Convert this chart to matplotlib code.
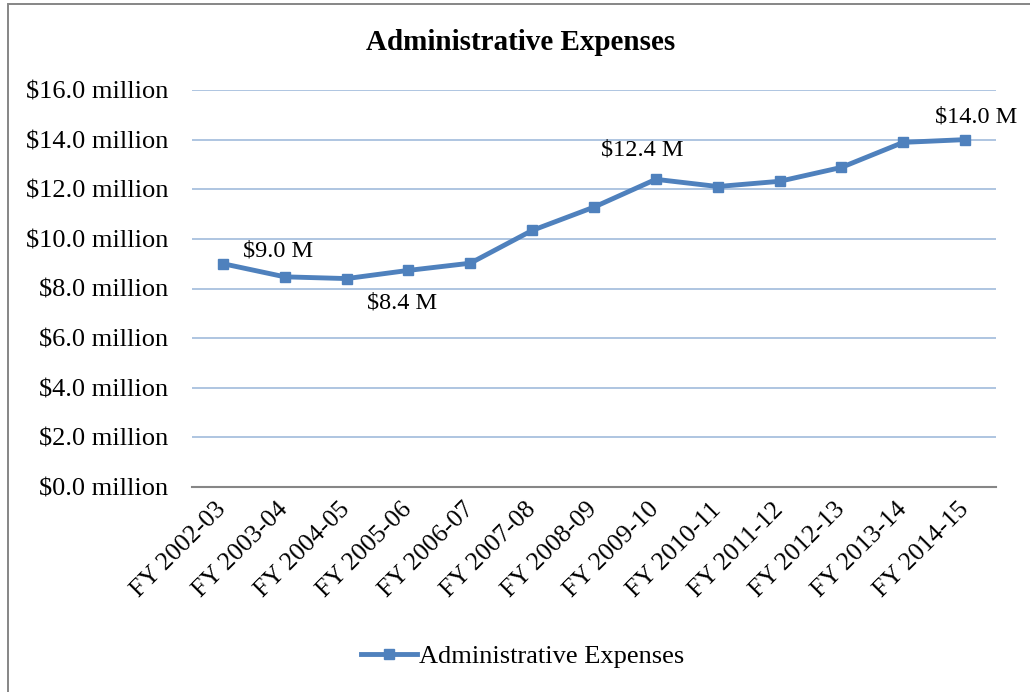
import matplotlib
matplotlib.use("Agg")
import matplotlib.pyplot as plt
from matplotlib.patches import Rectangle

plt.rcParams['font.family'] = ['Liberation Serif', 'DejaVu Serif']

fiscal_years = ["FY 2002-03", "FY 2003-04", "FY 2004-05", "FY 2005-06", "FY 2006-07",
                "FY 2007-08", "FY 2008-09", "FY 2009-10", "FY 2010-11", "FY 2011-12",
                "FY 2012-13", "FY 2013-14", "FY 2014-15"]
expenses_millions = [9.0, 8.47, 8.4, 8.73, 9.02, 10.34, 11.28, 12.4, 12.11, 12.32,
                     12.88, 13.89, 14.0]
y_ticks = [0, 2, 4, 6, 8, 10, 12, 14, 16]
# indices of points carrying a value label, with label offsets in pixels
labelled_points = [0, 2, 7, 12]
label_offsets = {0: (20, 13, 'left'), 2: (55, -24, 'center'),
                 7: (-14, 29, 'center'), 12: (11, 23, 'center')}

W, H = 1030, 692
fig = plt.figure(figsize=(W / 100, H / 100), dpi=100)

# chart frame
fig.patches.append(Rectangle((8 / W, -0.1), 1.2, 1 - 4 / H + 0.1, transform=fig.transFigure,
                             fill=False, edgecolor='#868686', linewidth=1.4))

ax = fig.add_axes([192 / W, 1 - 487 / H, (996 - 192) / W, (487 - 90) / H])
x = list(range(len(fiscal_years)))
line_color = '#4F81BD'
ax.plot(x, expenses_millions, color=line_color, linewidth=3.5, marker='s',
        markersize=7, markerfacecolor=line_color, markeredgecolor=line_color,
        label="Administrative Expenses", zorder=3)

ax.set_xlim(-0.5, len(fiscal_years) - 0.5)
ax.set_ylim(0, 16)
ax.set_yticks(y_ticks)
ax.set_yticklabels([f"${v:.1f} million" for v in y_ticks], fontsize=19)
ax.set_xticks(x)
ax.set_xticklabels(fiscal_years, rotation=45, ha='right', va='center',
                   rotation_mode='anchor', fontsize=18.5)
ax.tick_params(axis='y', length=0, pad=17)
ax.tick_params(axis='x', length=0, pad=14)

for v in y_ticks[1:]:
    ax.axhline(v, color='#A8C0DE', linewidth=1.3, zorder=1)
for side in ['top', 'right', 'left']:
    ax.spines[side].set_visible(False)
ax.spines['bottom'].set_color('#868686')
ax.spines['bottom'].set_linewidth(1.5)

for i in labelled_points:
    dx, dy, ha = label_offsets[i]
    ax.annotate(f"${expenses_millions[i]:.1f} M", (x[i], expenses_millions[i]),
                xytext=(dx, dy), textcoords='offset pixels', ha=ha, va='center',
                fontsize=17.5)

fig.text(521 / W, 1 - 43 / H, "Administrative Expenses", ha='center', va='center',
         fontsize=21, fontweight='bold')

fig.legend(loc='center', bbox_to_anchor=(523 / W, 1 - 656 / H), frameon=False,
           fontsize=19, handlelength=2.1, handletextpad=0.1)

fig.savefig("out.png", dpi=100)
